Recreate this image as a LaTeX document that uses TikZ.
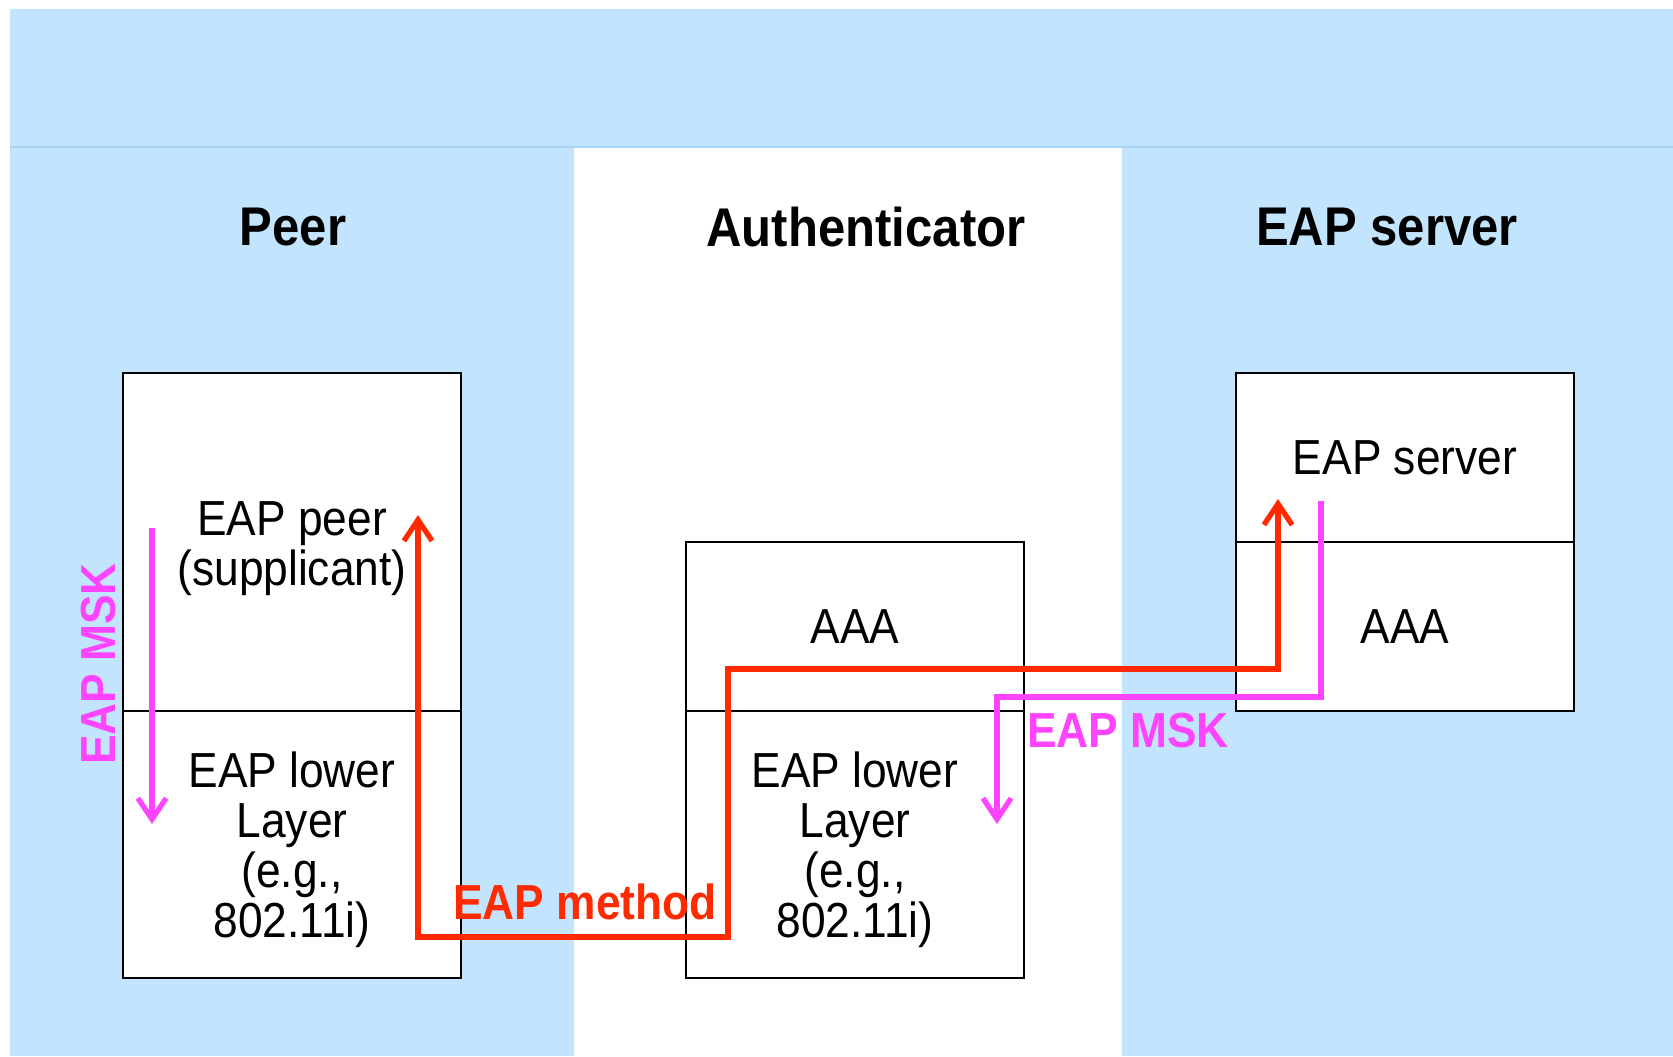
\documentclass[tikz,border=0pt]{standalone}
\usepackage{fontspec}
\newfontfamily\diafont[FakeStretch=0.9]{Liberation Sans}
\usetikzlibrary{arrows.meta,positioning}
\definecolor{skyband}{RGB}{195,228,253}
\definecolor{bandedge}{RGB}{165,210,245}
\definecolor{mskpink}{RGB}{255,68,255}
\definecolor{mtdred}{RGB}{255,42,0}
\newcommand{\toprow}{\rule{0pt}{13.2pt}}

\begin{document}
\begin{tikzpicture}[x=0.01cm,y=-0.01cm,
    every node/.style={font=\diafont},
    title/.style={font=\diafont\fontsize{15.5}{18}\selectfont\bfseries},
    layer/.style={draw,line width=0.5pt,fill=white,minimum width=3.38cm,inner sep=0pt,
      align=center,font=\diafont\fontsize{14}{14.2}\selectfont},
    mtdline/.style={mtdred,line width=1.5pt},
    mskline/.style={mskpink,line width=1.5pt},
    flowtag/.style={font=\diafont\fontsize{14}{16}\selectfont\bfseries,inner sep=0pt}]
  \useasboundingbox (0,0) rectangle (1673,1056);
  \fill[skyband] (10,9) rectangle (1673,1056);
  \fill[white] (574,147) rectangle (1122,1056);
  \draw[bandedge,line width=0.4pt] (10,147) -- (1673,147);

  \node[title] (peerttl) at (293,227) {Peer};
  \node[title] (authttl) at (866,227) {Authenticator};
  \node[title] (srvttl) at (1387,227) {EAP server};

  \node[layer,minimum height=3.38cm] (peerup) at (292,542) {\toprow EAP peer\\(supplicant)};
  \node[layer,minimum height=2.67cm] (peerlow) at (292,844.5) {\toprow EAP lower\\Layer\\(e.g.,\\802.11i)};
  \node[layer,minimum height=1.69cm] (authup) at (855,626.5) {AAA};
  \node[layer,minimum height=2.67cm] (authlow) at (855,844.5) {\toprow EAP lower\\Layer\\(e.g.,\\802.11i)};
  \node[layer,minimum height=1.69cm] (srvup) at (1405,457.5) {EAP server};
  \node[layer,minimum height=1.69cm] (srvlow) at (1405,626.5) {AAA};

  \coordinate (mtdpeer) at (418,515);
  \coordinate (mtdlow) at (728,937);
  \coordinate (mtdaaa) at (1278,669);
  \coordinate (mtdsrv) at (1278,499);
  \draw[mtdline,{Straight Barb[length=6pt,width=8pt]}-{Straight Barb[length=6pt,width=8pt]}]
    (mtdpeer) |- (mtdlow) |- (mtdaaa) -- (mtdsrv);
  \node[flowtag,text=mtdred] (mtdtag) at (585,902) {EAP method};

  \coordinate (mskpeerA) at (152,528);
  \coordinate (mskpeerB) at (152,824);
  \draw[mskline,-{Straight Barb[length=6pt,width=8pt]}] (mskpeerA) -- (mskpeerB);
  \node[flowtag,text=mskpink,rotate=90] (msktagA) at (99,664) {EAP MSK};

  \coordinate (msksrv) at (1321,501);
  \coordinate (mskbend) at (997,697);
  \coordinate (mskauth) at (997,824);
  \draw[mskline,-{Straight Barb[length=6pt,width=8pt]}] (msksrv) |- (mskbend) -- (mskauth);
  \node[flowtag,text=mskpink] (msktagB) at (1128,731) {EAP MSK};
\end{tikzpicture}
\end{document}
